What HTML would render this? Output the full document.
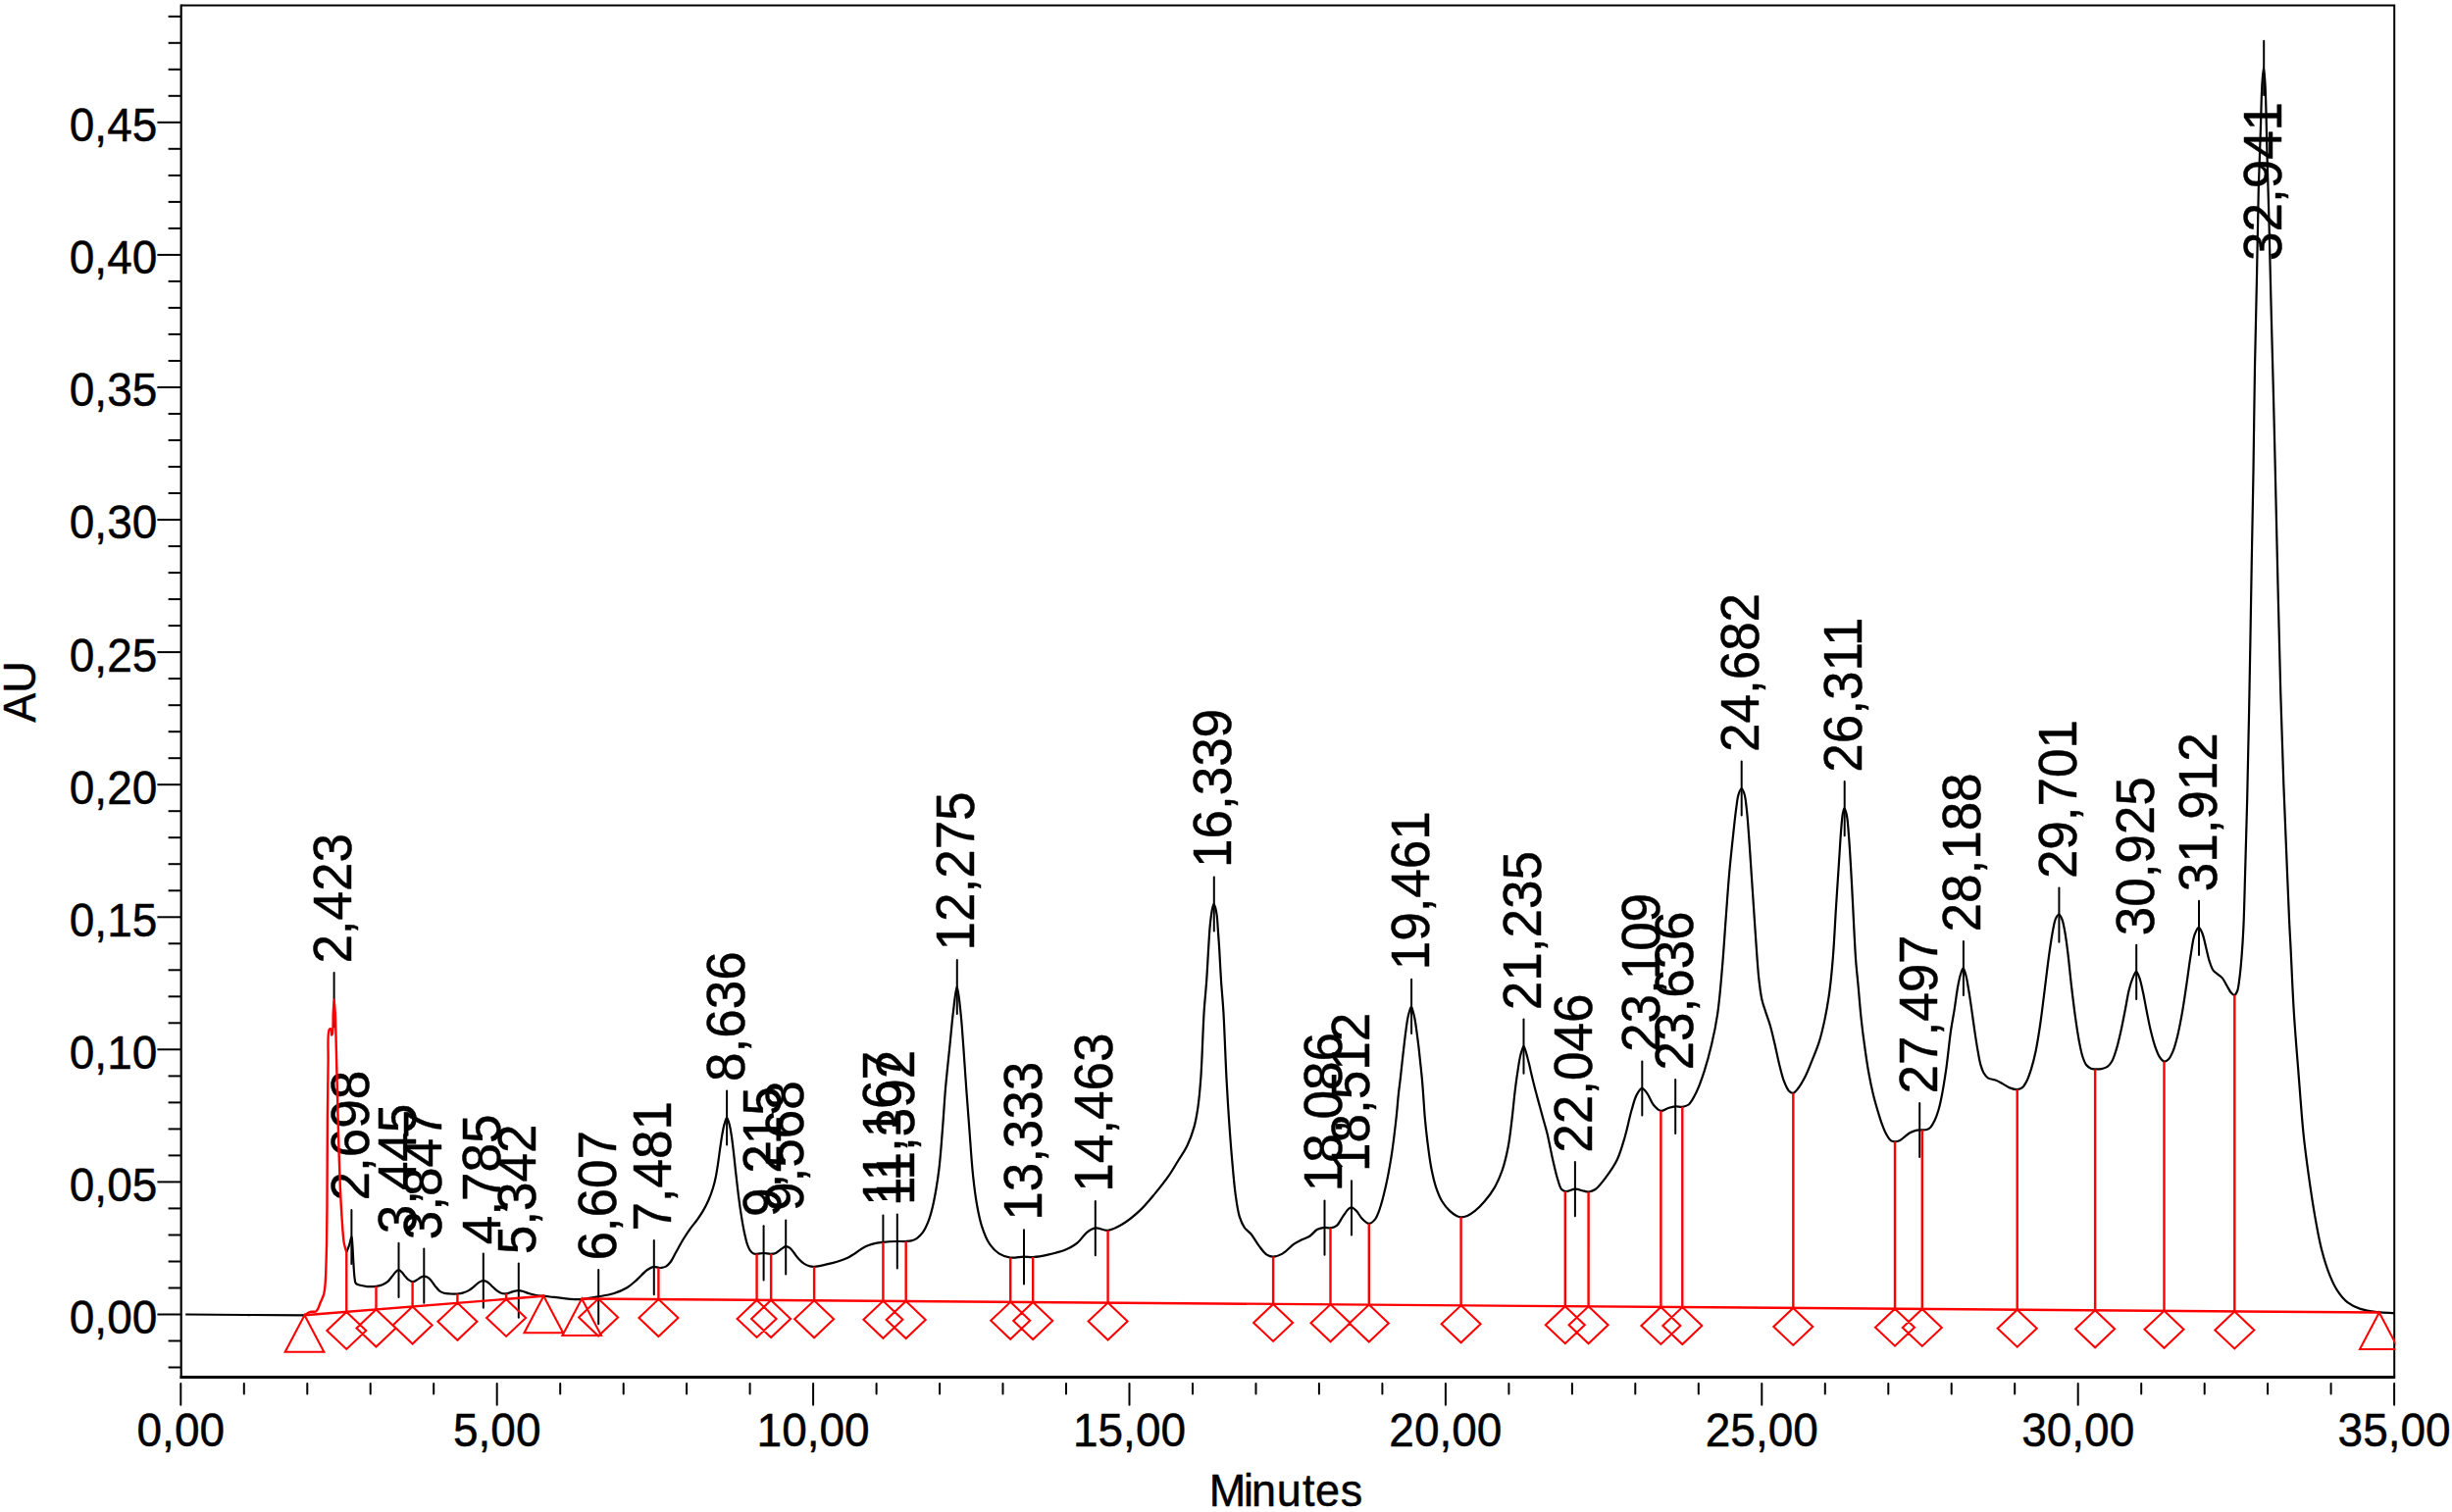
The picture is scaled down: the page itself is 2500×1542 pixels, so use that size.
<!DOCTYPE html><html><head><meta charset="utf-8"><title>Chromatogram</title>
<style>html,body{margin:0;padding:0;background:#fff;overflow:hidden}svg{display:block}text{font-family:"Liberation Sans",Arial,Helvetica,sans-serif;fill:#000;stroke:#000;stroke-width:0.45px;stroke-linejoin:round}</style></head><body>
<svg width="2500" height="1542" viewBox="0 0 2500 1542">
<rect width="2500" height="1542" fill="#fff"/>
<g stroke="#000" stroke-width="2" stroke-linecap="butt" fill="none"><path d="M171.6 1394.5 H184.7"/><path d="M171.6 1367.5 H184.7"/><path d="M160.4 1340.5 H184.7"/><path d="M171.6 1313.5 H184.7"/><path d="M171.6 1286.5 H184.7"/><path d="M171.6 1259.5 H184.7"/><path d="M171.6 1232.4 H184.7"/><path d="M160.4 1205.4 H184.7"/><path d="M171.6 1178.4 H184.7"/><path d="M171.6 1151.4 H184.7"/><path d="M171.6 1124.4 H184.7"/><path d="M171.6 1097.4 H184.7"/><path d="M160.4 1070.3 H184.7"/><path d="M171.6 1043.3 H184.7"/><path d="M171.6 1016.3 H184.7"/><path d="M171.6 989.3 H184.7"/><path d="M171.6 962.3 H184.7"/><path d="M160.4 935.3 H184.7"/><path d="M171.6 908.3 H184.7"/><path d="M171.6 881.2 H184.7"/><path d="M171.6 854.2 H184.7"/><path d="M171.6 827.2 H184.7"/><path d="M160.4 800.2 H184.7"/><path d="M171.6 773.2 H184.7"/><path d="M171.6 746.2 H184.7"/><path d="M171.6 719.2 H184.7"/><path d="M171.6 692.1 H184.7"/><path d="M160.4 665.1 H184.7"/><path d="M171.6 638.1 H184.7"/><path d="M171.6 611.1 H184.7"/><path d="M171.6 584.1 H184.7"/><path d="M171.6 557.1 H184.7"/><path d="M160.4 530.1 H184.7"/><path d="M171.6 503 H184.7"/><path d="M171.6 476 H184.7"/><path d="M171.6 449 H184.7"/><path d="M171.6 422 H184.7"/><path d="M160.4 395 H184.7"/><path d="M171.6 368 H184.7"/><path d="M171.6 340.9 H184.7"/><path d="M171.6 313.9 H184.7"/><path d="M171.6 286.9 H184.7"/><path d="M160.4 259.9 H184.7"/><path d="M171.6 232.9 H184.7"/><path d="M171.6 205.9 H184.7"/><path d="M171.6 178.9 H184.7"/><path d="M171.6 151.8 H184.7"/><path d="M160.4 124.8 H184.7"/><path d="M171.6 97.8 H184.7"/><path d="M171.6 70.8 H184.7"/><path d="M171.6 43.8 H184.7"/><path d="M171.6 16.8 H184.7"/></g><g stroke="#000" stroke-width="2" stroke-linecap="round" fill="none"><path d="M184.3 1411 V1432.8"/><path d="M248.8 1411 V1421.6"/><path d="M313.3 1411 V1421.6"/><path d="M377.7 1411 V1421.6"/><path d="M442.2 1411 V1421.6"/><path d="M506.7 1411 V1432.8"/><path d="M571.2 1411 V1421.6"/><path d="M635.7 1411 V1421.6"/><path d="M700.1 1411 V1421.6"/><path d="M764.6 1411 V1421.6"/><path d="M829.1 1411 V1432.8"/><path d="M893.6 1411 V1421.6"/><path d="M958.1 1411 V1421.6"/><path d="M1022.5 1411 V1421.6"/><path d="M1087 1411 V1421.6"/><path d="M1151.5 1411 V1432.8"/><path d="M1216 1411 V1421.6"/><path d="M1280.5 1411 V1421.6"/><path d="M1344.9 1411 V1421.6"/><path d="M1409.4 1411 V1421.6"/><path d="M1473.9 1411 V1432.8"/><path d="M1538.4 1411 V1421.6"/><path d="M1602.9 1411 V1421.6"/><path d="M1667.3 1411 V1421.6"/><path d="M1731.8 1411 V1421.6"/><path d="M1796.3 1411 V1432.8"/><path d="M1860.8 1411 V1421.6"/><path d="M1925.3 1411 V1421.6"/><path d="M1989.7 1411 V1421.6"/><path d="M2054.2 1411 V1421.6"/><path d="M2118.7 1411 V1432.8"/><path d="M2183.2 1411 V1421.6"/><path d="M2247.7 1411 V1421.6"/><path d="M2312.1 1411 V1421.6"/><path d="M2376.6 1411 V1421.6"/><path d="M2441.1 1411 V1432.8"/></g>
<path d="M184.7 5.4 H2441.2 V1404.5" fill="none" stroke="#000" stroke-width="2"/>
<path d="M184.7 4.4 V1406" fill="none" stroke="#000" stroke-width="2.2"/>
<path d="M183.6 1404.5 H2442.2" fill="none" stroke="#000" stroke-width="2.8"/>
<g font-size="46px" text-anchor="end">
<text transform="translate(160.3 1359.9) scale(1 1.048)">0,00</text>
<text transform="translate(160.3 1224.8) scale(1 1.048)">0,05</text>
<text transform="translate(160.3 1089.8) scale(1 1.048)">0,10</text>
<text transform="translate(160.3 954.7) scale(1 1.048)">0,15</text>
<text transform="translate(160.3 819.6) scale(1 1.048)">0,20</text>
<text transform="translate(160.3 684.5) scale(1 1.048)">0,25</text>
<text transform="translate(160.3 549.4) scale(1 1.048)">0,30</text>
<text transform="translate(160.3 414.4) scale(1 1.048)">0,35</text>
<text transform="translate(160.3 279.3) scale(1 1.048)">0,40</text>
<text transform="translate(160.3 144.2) scale(1 1.048)">0,45</text>
</g>
<g font-size="46px" text-anchor="middle">
<text transform="translate(184.3 1474.7) scale(1 1.048)">0,00</text>
<text transform="translate(506.7 1474.7) scale(1 1.048)">5,00</text>
<text transform="translate(829.1 1474.7) scale(1 1.048)">10,00</text>
<text transform="translate(1151.5 1474.7) scale(1 1.048)">15,00</text>
<text transform="translate(1473.9 1474.7) scale(1 1.048)">20,00</text>
<text transform="translate(1796.3 1474.7) scale(1 1.048)">25,00</text>
<text transform="translate(2118.7 1474.7) scale(1 1.048)">30,00</text>
<text transform="translate(2441.1 1474.7) scale(1 1.048)">35,00</text>
</g>
<text transform="translate(0 1536.3) scale(1 1.035)" font-size="45px" x="1232.8 1268 1275.9 1301.7 1328.1 1340.9 1366.8" y="0">Minutes</text>
<text transform="translate(36.4 705.5) rotate(-90) scale(1 1.035)" font-size="45px" text-anchor="middle">AU</text>
<defs><clipPath id="pc"><rect x="184.7" y="5.4" width="2257.7" height="1399.1"/></clipPath></defs>
<g fill="none" stroke="#000" stroke-width="2.2" stroke-linejoin="round" stroke-linecap="butt">
<path d="M189.2 1340.5 L250 1341 L310.5 1341.3"/>
<path d="M353.3 1276.9 C354.27 1274.43 355.35 1272.08 356.2 1269.5 C357.1 1266.79 357.97 1260.95 358.5 1261 C359.05 1261.05 359.12 1266.76 359.4 1270.4 C359.78 1275.41 360.02 1282.57 360.4 1288.3 C360.76 1293.6 361 1299.82 361.6 1303.6 C361.96 1305.88 361.86 1307.8 362.9 1309 C363.87 1310.12 365.7 1310.31 367.4 1310.8 C369.49 1311.4 372.06 1311.91 374.6 1312.1 C377.42 1312.31 380.88 1312.16 383.6 1311.8 C385.9 1311.49 387.94 1311.08 389.9 1310.3 C391.8 1309.54 393.61 1308.55 395.2 1307.2 C396.9 1305.76 398.29 1303.52 399.7 1301.8 C400.98 1300.24 402.04 1298.45 403.3 1297.3 C404.33 1296.37 405.44 1295.19 406.5 1295.2 C407.54 1295.21 408.6 1296.37 409.6 1297.3 C410.85 1298.45 411.96 1300.42 413.2 1301.8 C414.37 1303.1 415.48 1304.49 416.8 1305.4 C418.03 1306.25 419.39 1307.21 420.8 1307.2 C422.38 1307.19 424.31 1305.74 425.8 1304.9 C427.11 1304.16 428.11 1303.06 429.3 1302.5 C430.35 1302.01 431.44 1301.6 432.5 1301.6 C433.54 1301.6 434.58 1301.97 435.6 1302.5 C436.82 1303.14 438.02 1304.15 439.2 1305.4 C440.73 1307 442.15 1309.68 443.7 1311.6 C445.15 1313.4 446.57 1315.37 448.2 1316.6 C449.6 1317.66 451.03 1318.31 452.7 1318.8 C454.58 1319.35 456.83 1319.38 459 1319.5 C461.29 1319.63 463.81 1319.7 466.1 1319.5 C468.27 1319.31 470.41 1318.99 472.4 1318.4 C474.3 1317.84 476.06 1317.1 477.8 1316.1 C479.67 1315.03 481.42 1313.5 483.2 1312.1 C485.02 1310.67 486.85 1308.62 488.6 1307.6 C489.96 1306.81 491.26 1306.15 492.6 1306.1 C493.93 1306.06 495.3 1306.59 496.6 1307.3 C498.15 1308.15 499.54 1309.82 501.1 1311.2 C502.83 1312.73 504.71 1314.8 506.5 1316.1 C508.01 1317.2 509.41 1318.17 511 1318.7 C512.55 1319.22 514.27 1319.42 515.9 1319.3 C517.57 1319.17 519.28 1318.36 520.9 1317.9 C522.44 1317.46 523.98 1316.9 525.4 1316.6 C526.63 1316.34 527.66 1316.07 528.9 1316.1 C530.31 1316.14 531.79 1316.55 533.4 1317 C535.34 1317.55 537.51 1318.63 539.7 1319.3 C542 1320.01 544.48 1320.7 546.9 1321.1 C549.28 1321.49 551.45 1321.44 554.1 1321.7 C557.36 1322.02 560.64 1322.46 565 1322.9 C571.55 1323.57 581.78 1325.38 589.6 1325.2 C596.75 1325.03 603.79 1323.37 610.1 1322.3 C615.56 1321.38 620.42 1320.81 625.3 1319.3 C630.12 1317.8 635.1 1315.76 639.2 1313.3 C642.95 1311.05 645.78 1308.29 649.1 1305.4 C652.72 1302.24 656.67 1297.33 660 1295 C662.31 1293.39 664.42 1292.06 666.5 1291.8 C668.26 1291.58 670.13 1292.74 671.6 1292.9 C672.7 1293.02 673.45 1293.05 674.5 1292.9 C675.83 1292.71 677.52 1292.39 678.9 1291.6 C680.48 1290.7 681.87 1289.31 683.3 1287.5 C685.3 1284.97 687.06 1280.92 689.1 1277.3 C691.4 1273.21 693.9 1268.32 696.4 1264.2 C698.74 1260.35 701.13 1256.77 703.6 1253.3 C705.97 1249.98 708.65 1246.93 710.9 1243.8 C713 1240.87 714.85 1238.27 716.7 1235.1 C718.77 1231.57 720.89 1227.43 722.6 1223.5 C724.28 1219.66 725.69 1215.72 726.9 1211.8 C728.08 1207.96 728.97 1204.2 729.8 1200.2 C730.68 1195.98 731.3 1191.69 732 1187.1 C732.77 1182.04 733.45 1176.3 734.2 1171.1 C734.92 1166.15 735.59 1161 736.4 1156.6 C737.08 1152.89 737.73 1149.41 738.6 1146.4 C739.31 1143.93 740.17 1139.81 741 1139.8 C741.84 1139.79 742.86 1143.85 743.6 1146.4 C744.55 1149.69 745.13 1153.73 745.8 1158 C746.62 1163.22 747.29 1169.45 748 1175.5 C748.76 1182.01 749.4 1188.7 750.2 1195.8 C751.08 1203.65 752.08 1212.75 753.1 1220.6 C754.02 1227.71 754.97 1234.54 756 1240.9 C756.92 1246.56 757.85 1252 758.9 1256.9 C759.8 1261.12 760.67 1265.31 761.8 1268.6 C762.67 1271.13 763.46 1273.38 764.7 1275.1 C765.74 1276.55 767.1 1277.92 768.4 1278.5 C769.46 1278.97 770.4 1278.82 771.7 1278.8 C773.58 1278.78 776.28 1278.01 778.6 1278 C780.97 1277.99 783.61 1278.85 785.8 1278.8 C787.65 1278.76 789.22 1278.7 790.9 1278 C792.9 1277.17 794.96 1274.9 796.8 1273.7 C798.32 1272.71 799.63 1271.32 801.1 1271.2 C802.53 1271.09 804.15 1271.94 805.5 1272.9 C807.1 1274.04 808.38 1276.23 809.8 1278 C811.28 1279.85 812.53 1282.01 814.2 1283.8 C815.92 1285.65 817.96 1287.61 820 1288.9 C821.85 1290.07 823.96 1290.93 825.8 1291.4 C827.34 1291.79 828.39 1291.88 830.2 1291.8 C833.15 1291.67 837.94 1290.53 841.8 1289.7 C845.71 1288.86 849.76 1287.94 853.5 1286.8 C857.05 1285.72 860.66 1284.54 863.7 1283.1 C866.38 1281.83 868.52 1280.34 870.9 1278.8 C873.35 1277.21 875.71 1275.19 878.2 1273.7 C880.58 1272.27 883.02 1270.99 885.5 1270 C887.89 1269.04 890.33 1268.33 892.8 1267.8 C895.26 1267.27 897.39 1267.07 900.3 1266.8 C904.3 1266.42 910.38 1266.12 914.6 1266 C917.94 1265.91 920.97 1266.14 923.6 1266 C925.66 1265.89 927.28 1265.89 929.1 1265.4 C931.05 1264.87 933.07 1264.06 934.9 1262.8 C937 1261.35 939.02 1259.37 940.8 1256.9 C943.02 1253.82 944.96 1249.47 946.6 1245.3 C948.38 1240.79 949.63 1235.91 950.9 1230.7 C952.33 1224.84 953.51 1218.23 954.6 1211.8 C955.72 1205.17 956.67 1198.51 957.5 1191.5 C958.39 1184.01 959 1176.4 959.7 1168.2 C960.48 1159.04 961.18 1148.8 961.9 1139.1 C962.62 1129.4 963.08 1120.67 964 1110 C965.13 1096.92 967.01 1080.07 968.4 1066.4 C969.63 1054.25 970.58 1042.63 971.9 1032 C973.05 1022.77 974.45 1006.2 975.7 1006.2 C976.95 1006.2 978.36 1022.77 979.4 1032 C980.59 1042.63 981.3 1054.46 982.2 1066.4 C983.18 1079.37 984.01 1093.31 985 1107 C986.01 1121.03 987.07 1134.86 988.2 1149.6 C989.42 1165.51 990.57 1184.78 992.1 1199.2 C993.29 1210.41 994.45 1219.88 996.1 1229 C997.53 1236.87 998.84 1243.99 1001.1 1250.8 C1003.21 1257.17 1005.68 1263.85 1009 1268.7 C1011.81 1272.8 1015.2 1276.27 1018.9 1278.6 C1022.32 1280.76 1026.19 1282.06 1030.2 1282.6 C1034.49 1283.18 1039.77 1281.66 1043.9 1281.6 C1047.3 1281.55 1049.73 1282.2 1053.2 1282 C1057.68 1281.75 1063.23 1280.74 1068.5 1279.6 C1074.27 1278.35 1081.16 1276.81 1086.4 1274.6 C1090.91 1272.7 1094.72 1270.6 1098.3 1267.7 C1102.01 1264.7 1104.77 1259.43 1108.2 1256.8 C1110.98 1254.67 1113.56 1252.87 1116.8 1252.4 C1120.56 1251.86 1125.28 1255.26 1129.6 1254.8 C1134.31 1254.3 1139.06 1251.63 1143.9 1248.8 C1149.75 1245.38 1156.23 1240.1 1161.8 1234.9 C1167.52 1229.56 1172.68 1223.13 1177.7 1217.1 C1182.6 1211.22 1187.49 1205.1 1191.6 1199.2 C1195.33 1193.84 1198.31 1188.52 1201.5 1183.3 C1204.57 1178.29 1207.82 1173.87 1210.4 1168.5 C1213.19 1162.7 1215.58 1156.05 1217.4 1149.6 C1219.22 1143.15 1220.22 1137.1 1221.3 1129.8 C1222.62 1120.91 1223.41 1111.97 1224.3 1100 C1225.65 1081.96 1226.4 1050.44 1227.6 1032 C1228.42 1019.34 1229.44 1010.82 1230.2 1000 C1230.98 988.87 1231.59 975.89 1232.2 966.1 C1232.67 958.62 1233 952.06 1233.5 946.3 C1233.89 941.83 1234.31 937.96 1234.8 934.4 C1235.2 931.49 1235.54 928.72 1236.1 926.5 C1236.53 924.83 1237.05 922.22 1237.6 922.2 C1238.15 922.18 1238.91 924.82 1239.4 926.5 C1240.05 928.71 1240.43 931.49 1240.8 934.4 C1241.25 937.95 1241.37 941.83 1241.7 946.3 C1242.12 952.06 1242.63 958.62 1243.1 966.1 C1243.72 975.89 1244.27 988.87 1245 1000 C1245.71 1010.82 1246.64 1019.34 1247.4 1032 C1248.51 1050.44 1249.46 1080.37 1250.5 1100 C1251.3 1115.01 1252 1126.47 1252.9 1139.7 C1253.8 1152.94 1254.75 1166.17 1255.9 1179.4 C1257.05 1192.64 1258.22 1207.86 1259.8 1219.1 C1260.98 1227.48 1261.93 1234.97 1263.8 1240.9 C1265.18 1245.26 1266.67 1248.72 1268.8 1251.8 C1270.72 1254.59 1273.44 1256.04 1275.7 1258.8 C1278.43 1262.14 1280.92 1267.1 1283.7 1270.7 C1286.24 1273.98 1288.83 1277.82 1291.6 1279.6 C1293.69 1280.95 1295.74 1281.61 1298.1 1281.6 C1300.95 1281.59 1304.35 1280.33 1307.5 1278.6 C1311.44 1276.44 1315.73 1271.22 1319.4 1268.7 C1322.21 1266.78 1324.63 1265.64 1327.3 1264.3 C1329.93 1262.98 1332.76 1262.33 1335.3 1260.7 C1338.08 1258.92 1340.44 1255.28 1343.2 1253.8 C1345.54 1252.54 1348.17 1252 1350.5 1251.8 C1352.58 1251.63 1354.49 1252.68 1356.5 1252.4 C1358.66 1252.09 1361.08 1251.35 1363 1249.8 C1365.38 1247.88 1366.97 1243.75 1369 1240.9 C1370.94 1238.16 1373.1 1234.55 1374.9 1233 C1375.96 1232.09 1376.8 1231.33 1377.9 1231.4 C1379.38 1231.49 1381.29 1233.33 1382.9 1234.9 C1384.96 1236.91 1386.55 1240.7 1388.8 1242.9 C1390.89 1244.94 1393.56 1247.77 1395.8 1247.8 C1397.84 1247.83 1400.03 1245.85 1401.7 1243.9 C1403.87 1241.36 1405.13 1237.34 1406.7 1233 C1408.86 1227.03 1410.77 1219.11 1412.6 1211.1 C1414.79 1201.55 1416.84 1190.57 1418.6 1179.4 C1420.56 1167.01 1422.32 1151.56 1423.6 1140 C1424.6 1130.94 1425.12 1122.91 1425.9 1115.7 C1426.53 1109.89 1427.19 1105.32 1427.8 1100 C1428.43 1094.52 1428.98 1088.86 1429.6 1083.3 C1430.22 1077.76 1430.87 1072.07 1431.5 1066.7 C1432.1 1061.62 1432.66 1056.67 1433.3 1051.9 C1433.9 1047.42 1434.48 1042.61 1435.2 1038.9 C1435.75 1036.07 1436.3 1033.65 1437 1031.5 C1437.57 1029.76 1438.28 1026.89 1438.9 1026.9 C1439.52 1026.91 1440.15 1029.72 1440.7 1031.5 C1441.42 1033.84 1442.03 1036.76 1442.6 1039.8 C1443.29 1043.44 1443.81 1047.66 1444.4 1051.9 C1445.05 1056.58 1445.7 1061.62 1446.3 1066.7 C1446.94 1072.07 1447.5 1077.61 1448.1 1083.3 C1448.73 1089.32 1449.45 1095.7 1450 1101.9 C1450.55 1108.07 1450.94 1114.14 1451.4 1120.4 C1451.87 1126.84 1452.19 1133.18 1452.8 1140 C1453.47 1147.48 1454.28 1155.35 1455.3 1163.5 C1456.41 1172.39 1457.65 1182.86 1459.3 1191.3 C1460.7 1198.5 1462.2 1205.16 1464.2 1211.1 C1465.93 1216.22 1467.74 1220.9 1470.2 1225 C1472.45 1228.75 1475.36 1232.3 1478.1 1234.9 C1480.36 1237.04 1482.94 1238.83 1485.1 1239.9 C1486.7 1240.69 1487.96 1241.23 1489.6 1241.3 C1491.54 1241.38 1493.83 1240.79 1496 1239.9 C1498.59 1238.84 1501.24 1237.03 1503.9 1234.9 C1507.16 1232.29 1510.64 1228.72 1513.8 1225 C1517.3 1220.88 1520.88 1216.18 1523.8 1211.1 C1526.91 1205.68 1529.47 1199.77 1531.7 1193.3 C1534.21 1186.04 1536.08 1177.91 1537.7 1169.5 C1539.49 1160.24 1540.6 1149.06 1541.7 1140 C1542.64 1132.27 1543.26 1125 1544 1118.5 C1544.62 1113.11 1545.16 1108.47 1545.8 1103.7 C1546.4 1099.22 1547.06 1094.86 1547.7 1090.7 C1548.29 1086.85 1548.81 1082.91 1549.5 1079.6 C1550.07 1076.87 1550.66 1074.41 1551.4 1072.2 C1552.03 1070.32 1552.8 1067.1 1553.5 1067.1 C1554.2 1067.1 1554.97 1070.38 1555.6 1072.2 C1556.29 1074.22 1556.8 1076.46 1557.4 1078.7 C1558.04 1081.08 1558.66 1083.43 1559.3 1086.1 C1560.05 1089.22 1560.75 1092.7 1561.6 1096.3 C1562.56 1100.38 1563.67 1104.91 1564.8 1109.3 C1565.97 1113.84 1567.19 1118.27 1568.5 1123.1 C1569.95 1128.45 1571.59 1134.48 1573.1 1140 C1574.55 1145.31 1575.94 1149.63 1577.4 1155.6 C1579.33 1163.49 1581.34 1174.84 1583.3 1183.3 C1584.97 1190.5 1586.55 1197.76 1588.3 1203.2 C1589.56 1207.12 1590.44 1211.18 1592.2 1213.1 C1593.34 1214.35 1594.53 1214.91 1596.2 1215.1 C1598.73 1215.39 1602.88 1212.73 1606.1 1212.7 C1609.17 1212.67 1612.61 1214.2 1615.1 1214.7 C1616.85 1215.05 1617.96 1215.64 1619.6 1215.5 C1621.68 1215.32 1624.17 1214.59 1626.5 1213 C1629.93 1210.66 1633.56 1205.66 1637 1201.1 C1641.05 1195.72 1645.64 1189.3 1648.9 1182.5 C1652.37 1175.25 1654.5 1166.89 1656.9 1158.7 C1659.39 1150.18 1661.27 1139.95 1663.5 1132.3 C1665.25 1126.29 1666.61 1120.41 1668.8 1116.4 C1670.35 1113.55 1672.28 1109.9 1674.1 1109.8 C1675.82 1109.71 1677.69 1112.83 1679.4 1115.1 C1681.7 1118.16 1683.38 1123.93 1686 1127 C1688.18 1129.55 1690.84 1132.4 1693.4 1132.8 C1695.69 1133.16 1698.09 1130.95 1700.5 1130.2 C1702.92 1129.45 1705.41 1128.53 1707.9 1128.3 C1710.35 1128.07 1712.96 1129.13 1715.3 1128.8 C1717.55 1128.49 1719.71 1128.11 1721.7 1126.5 C1724.65 1124.12 1727.18 1118.71 1729.6 1113.8 C1732.58 1107.76 1735.13 1100.21 1737.6 1092.6 C1740.38 1084.02 1742.97 1074.36 1745.2 1064.8 C1747.53 1054.79 1749.51 1045.28 1751.2 1033.8 C1753.28 1019.67 1754.62 1002.08 1756 986.2 C1757.38 970.34 1758.32 954.47 1759.5 938.6 C1760.68 922.73 1761.8 905.73 1763.1 891 C1764.23 878.21 1765.47 866.69 1766.7 855.2 C1767.84 844.52 1769.03 832.63 1770.2 824.3 C1771 818.61 1771.38 813.68 1772.6 810 C1773.44 807.49 1774.7 803.99 1775.7 804 C1776.7 804.01 1777.81 807.42 1778.6 810 C1779.85 814.1 1780.29 820.38 1781 826.7 C1781.92 834.93 1782.56 845.16 1783.3 855.2 C1784.13 866.45 1784.9 879.08 1785.7 891 C1786.5 902.91 1787.3 914.8 1788.1 926.7 C1788.9 938.6 1789.63 950.5 1790.5 962.4 C1791.37 974.3 1792.14 987.73 1793.3 998.1 C1794.2 1006.16 1795.05 1013.45 1796.4 1019.5 C1797.42 1024.09 1798.68 1027.26 1800 1031.4 C1801.45 1035.96 1803.31 1040.56 1804.8 1045.7 C1806.51 1051.57 1807.96 1058.24 1809.5 1064.8 C1811.13 1071.72 1812.61 1079.53 1814.3 1086.2 C1815.8 1092.13 1817.17 1098.19 1819 1102.9 C1820.44 1106.59 1821.9 1110.42 1823.8 1112.4 C1825.09 1113.75 1826.66 1114.97 1828.1 1114.8 C1829.83 1114.6 1831.58 1112.11 1833.3 1110 C1835.72 1107.04 1838.25 1102.49 1840.5 1098.1 C1843.07 1093.09 1845.28 1087.17 1847.6 1081.4 C1850.05 1075.29 1852.69 1069.16 1854.8 1062.4 C1857.12 1054.98 1858.97 1046.93 1860.7 1038.6 C1862.58 1029.54 1864.16 1020.09 1865.5 1010 C1866.99 998.78 1867.99 987.06 1869 974.3 C1870.17 959.58 1870.9 942.57 1871.9 926.7 C1872.9 910.81 1874.02 893.75 1875 879 C1875.84 866.24 1876.57 852.52 1877.4 843.3 C1877.92 837.45 1878.26 832.45 1879 829 C1879.43 826.98 1879.93 824.3 1880.5 824.3 C1881.2 824.29 1882.23 828.29 1882.9 831.4 C1884.09 836.96 1884.47 845.89 1885.2 855.2 C1886.24 868.36 1887.22 887.01 1888.1 902.9 C1888.98 918.77 1889.74 936.52 1890.5 950.5 C1891.09 961.51 1891.47 970.44 1892.2 980 C1892.89 989.08 1893.84 997.18 1894.7 1006.5 C1895.66 1016.9 1896.58 1029.11 1897.7 1039.5 C1898.7 1048.83 1899.78 1057.17 1901 1066 C1902.22 1074.84 1903.5 1084.05 1905 1092.5 C1906.39 1100.33 1907.94 1108.03 1909.6 1115 C1911.07 1121.14 1912.68 1126.73 1914.3 1132.2 C1915.79 1137.26 1917.25 1142.28 1918.9 1146.7 C1920.34 1150.55 1921.77 1154.35 1923.5 1157.3 C1924.9 1159.68 1926.41 1162.19 1928.1 1163.3 C1929.35 1164.12 1930.72 1164.28 1932.1 1164.3 C1933.58 1164.32 1935.19 1163.99 1936.7 1163.3 C1938.5 1162.48 1940.23 1160.63 1942 1159.3 C1943.77 1157.97 1945.46 1156.35 1947.3 1155.3 C1949.01 1154.32 1950.84 1153.58 1952.6 1153.1 C1954.24 1152.65 1956.11 1152.5 1957.5 1152.4 C1958.53 1152.33 1959.2 1152.45 1960.2 1152.4 C1961.47 1152.34 1963.15 1152.47 1964.5 1152 C1965.92 1151.51 1967.29 1150.65 1968.5 1149.4 C1970.04 1147.81 1971.28 1145.33 1972.5 1142.8 C1973.97 1139.74 1975.32 1135.73 1976.4 1132.2 C1977.44 1128.8 1978 1126.36 1978.9 1122 C1980.49 1114.34 1982.69 1101.22 1984.3 1090.1 C1986.05 1078.01 1987.31 1063.14 1988.9 1052.1 C1990.13 1043.52 1991.5 1036.91 1992.7 1029.3 C1993.9 1021.71 1994.92 1012.9 1996.1 1006.5 C1996.97 1001.79 1997.73 997.77 1998.8 994.3 C1999.63 991.61 2000.68 987.29 2001.6 987.3 C2002.52 987.31 2003.49 991.48 2004.3 994.3 C2005.46 998.36 2006.27 1004.09 2007.2 1009.5 C2008.25 1015.66 2009.22 1022.58 2010.2 1029.3 C2011.22 1036.27 2012.16 1043.63 2013.2 1050.6 C2014.2 1057.32 2015.21 1064.25 2016.3 1070.4 C2017.26 1075.81 2018.1 1081.32 2019.3 1085.6 C2020.22 1088.85 2021.01 1091.62 2022.4 1094 C2023.62 1096.09 2024.98 1098.04 2026.9 1099.3 C2028.95 1100.65 2032.01 1100.61 2034.5 1101.6 C2037.08 1102.63 2039.58 1104.07 2042.1 1105.4 C2044.65 1106.74 2047.16 1108.64 2049.7 1109.6 C2051.99 1110.46 2054.47 1111.24 2056.6 1111.1 C2058.5 1110.98 2060.36 1110.4 2061.9 1109.2 C2063.77 1107.74 2065.12 1105.02 2066.5 1102.3 C2068.23 1098.89 2069.6 1094.61 2071 1090.1 C2072.68 1084.68 2074.19 1078.62 2075.6 1071.9 C2077.32 1063.73 2078.76 1054.21 2080.2 1044.5 C2081.82 1033.56 2083.2 1021.29 2084.7 1009.5 C2086.23 997.46 2087.76 983.92 2089.3 973 C2090.56 964.07 2091.76 955.39 2093.1 948.7 C2094.06 943.92 2094.68 939.33 2096.1 936.5 C2097 934.7 2098.29 932.54 2099.3 932.6 C2100.36 932.66 2101.44 935.25 2102.3 937.3 C2103.63 940.46 2104.39 945.34 2105.3 950.2 C2106.45 956.39 2107.3 963.51 2108.3 971.5 C2109.57 981.72 2110.79 995.25 2112.1 1006.5 C2113.33 1017 2114.56 1027.34 2115.9 1036.9 C2117.1 1045.46 2118.3 1053.87 2119.7 1061.2 C2120.87 1067.34 2121.96 1073.44 2123.5 1078 C2124.62 1081.32 2125.67 1084.26 2127.3 1086.3 C2128.6 1087.93 2130.31 1089.14 2131.9 1089.8 C2133.26 1090.37 2134.55 1090.33 2136.1 1090.4 C2138.01 1090.49 2140.42 1090.51 2142.5 1090.1 C2144.59 1089.68 2146.84 1089.12 2148.6 1087.9 C2150.44 1086.63 2151.85 1084.81 2153.2 1082.5 C2155.03 1079.39 2156.3 1074.89 2157.7 1070.4 C2159.39 1064.97 2160.84 1058.55 2162.3 1052.1 C2163.92 1044.94 2165.46 1036.64 2166.9 1029.3 C2168.24 1022.47 2169.25 1015.26 2170.7 1009.5 C2171.85 1004.94 2173.07 1000.77 2174.5 997.4 C2175.6 994.81 2176.95 990.78 2178.1 990.8 C2179.24 990.82 2180.4 994.68 2181.4 997.4 C2182.85 1001.36 2183.92 1007.19 2185.1 1012.6 C2186.44 1018.73 2187.61 1025.86 2188.9 1032.3 C2190.15 1038.52 2191.27 1044.66 2192.7 1050.6 C2194.08 1056.32 2195.58 1062.4 2197.3 1067.3 C2198.71 1071.32 2200.04 1075.33 2201.9 1078 C2203.29 1080 2204.97 1082.25 2206.6 1082.5 C2208.02 1082.71 2209.69 1081.56 2211 1080.3 C2212.83 1078.54 2214.23 1075.2 2215.6 1071.9 C2217.37 1067.66 2218.71 1062.31 2220.1 1056.7 C2221.79 1049.9 2223.26 1041.97 2224.7 1033.9 C2226.32 1024.85 2227.72 1014.88 2229.2 1005 C2230.76 994.61 2232.23 982.38 2233.8 973 C2235.04 965.6 2235.79 958.1 2237.6 953.2 C2238.77 950.02 2240.44 945.82 2241.8 945.8 C2243.03 945.78 2244.35 949.23 2245.4 951.7 C2246.9 955.24 2247.8 960.71 2249 965.4 C2250.26 970.33 2251.35 976.23 2252.8 980.6 C2253.95 984.07 2254.94 987.44 2256.6 989.7 C2257.9 991.47 2259.66 992.31 2261.2 993.6 C2262.73 994.88 2264.4 995.77 2265.8 997.4 C2267.5 999.39 2268.79 1002.47 2270.3 1005 C2271.82 1007.54 2273.32 1010.92 2274.9 1012.6 C2275.95 1013.71 2277.13 1014.96 2278.1 1014.8 C2279.18 1014.63 2280.23 1012.75 2281 1011 C2282.24 1008.2 2282.54 1003.58 2283.2 998.9 C2284.1 992.51 2284.83 984.26 2285.5 976.1 C2286.27 966.68 2286.86 957.26 2287.4 945.6 C2288.13 929.95 2288.52 910.42 2289.1 890.6 C2289.78 867.29 2290.52 842.83 2291.2 814.5 C2292.06 778.7 2292.93 733.44 2293.7 692.9 C2294.47 652.34 2295.12 608.85 2295.8 571.2 C2296.38 538.61 2296.98 511.51 2297.5 480 C2298.06 446.11 2298.39 408.39 2299 374.5 C2299.57 342.99 2300.37 313.7 2301 283.3 C2301.63 252.9 2302.06 219.44 2302.8 192.1 C2303.41 169.76 2304.27 150.03 2304.9 131.2 C2305.45 114.9 2305.66 97.05 2306.4 85.6 C2306.85 78.66 2307.48 68.9 2308 68.9 C2308.52 68.9 2309.05 78.01 2309.5 85.6 C2310.45 101.78 2310.92 137.76 2311.6 161.7 C2312.21 183.1 2312.8 200.19 2313.4 222.5 C2314.13 249.83 2314.83 283.29 2315.6 313.7 C2316.37 344.13 2317.27 376.06 2318 405 C2318.66 431.23 2319.14 451.99 2319.8 480 C2320.64 515.68 2321.65 562.5 2322.6 601.7 C2323.49 638.36 2324.31 674 2325.3 708.1 C2326.22 739.67 2327.23 770.28 2328.3 799.3 C2329.28 825.82 2330.4 851.08 2331.4 875.4 C2332.32 897.79 2333.3 923.16 2334.1 939.9 C2334.61 950.57 2334.95 955.38 2335.5 966.1 C2336.38 983.14 2337.42 1010.25 2338.8 1032.3 C2340.18 1054.35 2342.11 1076.95 2343.8 1098.4 C2345.41 1118.76 2346.85 1140.08 2348.7 1157.9 C2350.22 1172.49 2351.82 1184.12 2353.7 1197.6 C2355.66 1211.66 2357.94 1227.23 2360.3 1240.6 C2362.38 1252.38 2364.25 1263.36 2366.9 1273.7 C2369.3 1283.07 2372.12 1292.42 2375.2 1300.1 C2377.72 1306.38 2380.17 1311.85 2383.4 1316.7 C2386.33 1321.1 2389.5 1325.16 2393.4 1328.2 C2397.25 1331.2 2401.71 1333.26 2406.6 1334.9 C2412.06 1336.74 2418.86 1337.48 2424.8 1338.2 C2430.41 1338.88 2435.8 1338.87 2441.3 1339.2"/>
</g>
<g stroke="#000" stroke-width="2" stroke-linecap="round" fill="none">
<path d="M340.6 992 V1047.2"/>
<path d="M358.4 1233.9 V1289.1"/>
<path d="M406.5 1267.7 V1322.9"/>
<path d="M432.3 1273.6 V1328.8"/>
<path d="M492.8 1278.6 V1333.8"/>
<path d="M528.8 1288.6 V1343.8"/>
<path d="M610.2 1295 V1350.2"/>
<path d="M666.8 1265 V1320.2"/>
<path d="M741.1 1112.4 V1167.6"/>
<path d="M778.6 1250.3 V1305.5"/>
<path d="M801.2 1244.4 V1299.6"/>
<path d="M900.4 1239.5 V1267.1"/>
<path d="M914.8 1238.4 V1293.6"/>
<path d="M975.8 978.9 V1034.1"/>
<path d="M1044 1254.2 V1309.4"/>
<path d="M1116.8 1225.1 V1280.3"/>
<path d="M1237.8 894.4 V949.6"/>
<path d="M1350.5 1224.6 V1279.8"/>
<path d="M1378 1204.3 V1259.5"/>
<path d="M1439.1 998.7 V1053.9"/>
<path d="M1553.5 1039.6 V1094.8"/>
<path d="M1605.9 1185.1 V1240.3"/>
<path d="M1674.3 1082.4 V1137.6"/>
<path d="M1708.2 1100.9 V1156.1"/>
<path d="M1775.7 776.4 V831.6"/>
<path d="M1880.7 797.1 V852.3"/>
<path d="M1957.2 1124.9 V1180.1"/>
<path d="M2001.9 959.9 V1015.1"/>
<path d="M2099.4 905.5 V960.7"/>
<path d="M2178.2 963.7 V1018.9"/>
<path d="M2242 918.7 V973.9"/>
<path d="M2308.2 41.7 V96.9"/>
</g>
<g font-size="53px">
<text transform="translate(358.1 982.6) rotate(-90) scale(1 1.05)">2,423</text>
<text transform="translate(375.9 1224.5) rotate(-90) scale(1 1.05)">2,698</text>
<text transform="translate(424 1258.3) rotate(-90) scale(1 1.05)">3,445</text>
<text transform="translate(449.8 1264.2) rotate(-90) scale(1 1.05)">3,847</text>
<text transform="translate(510.3 1269.2) rotate(-90) scale(1 1.05)">4,785</text>
<text transform="translate(546.3 1279.2) rotate(-90) scale(1 1.05)">5,342</text>
<text transform="translate(627.7 1285.6) rotate(-90) scale(1 1.05)">6,607</text>
<text transform="translate(684.3 1255.6) rotate(-90) scale(1 1.05)">7,481</text>
<text transform="translate(758.6 1103) rotate(-90) scale(1 1.05)">8,636</text>
<text transform="translate(796.1 1240.9) rotate(-90) scale(1 1.05)">9,215</text>
<text transform="translate(818.7 1235) rotate(-90) scale(1 1.05)">9,568</text>
<text transform="translate(917.9 1230.1) rotate(-90) scale(1 1.05)">11,167</text>
<text transform="translate(932.3 1229) rotate(-90) scale(1 1.05)">11,392</text>
<text transform="translate(993.3 969.5) rotate(-90) scale(1 1.05)">12,275</text>
<text transform="translate(1061.5 1244.8) rotate(-90) scale(1 1.05)">13,333</text>
<text transform="translate(1134.3 1215.7) rotate(-90) scale(1 1.05)">14,463</text>
<text transform="translate(1255.3 885) rotate(-90) scale(1 1.05)">16,339</text>
<text transform="translate(1368 1215.2) rotate(-90) scale(1 1.05)">18,086</text>
<text transform="translate(1395.5 1194.9) rotate(-90) scale(1 1.05)">18,512</text>
<text transform="translate(1456.6 989.3) rotate(-90) scale(1 1.05)">19,461</text>
<text transform="translate(1571 1030.2) rotate(-90) scale(1 1.05)">21,235</text>
<text transform="translate(1623.4 1175.7) rotate(-90) scale(1 1.05)">22,046</text>
<text transform="translate(1691.8 1073) rotate(-90) scale(1 1.05)">23,109</text>
<text transform="translate(1725.7 1091.5) rotate(-90) scale(1 1.05)">23,636</text>
<text transform="translate(1793.2 767) rotate(-90) scale(1 1.05)">24,682</text>
<text transform="translate(1898.2 787.7) rotate(-90) scale(1 1.05)">26,311</text>
<text transform="translate(1974.7 1115.5) rotate(-90) scale(1 1.05)">27,497</text>
<text transform="translate(2019.4 950.5) rotate(-90) scale(1 1.05)">28,188</text>
<text transform="translate(2116.9 896.1) rotate(-90) scale(1 1.05)">29,701</text>
<text transform="translate(2195.7 954.3) rotate(-90) scale(1 1.05)">30,925</text>
<text transform="translate(2259.5 909.3) rotate(-90) scale(1 1.05)">31,912</text>
<text transform="translate(2325.7 266) rotate(-90) scale(1 1.05)">32,941</text>
</g>
<g fill="none" stroke="#f00" stroke-width="2.4" stroke-linejoin="miter" clip-path="url(#pc)">
<path d="M310.5 1341.3 C312.47 1340.17 314.37 1338.52 316.4 1337.9 C318.28 1337.33 320.84 1338.28 322.2 1337.5 C323.31 1336.86 323.73 1335.57 324.4 1334.3 C325.24 1332.69 325.76 1330.63 326.6 1328.5 C327.64 1325.87 329.36 1322.9 330.2 1319.7 C331.14 1316.13 331.33 1312.33 331.7 1308 C332.16 1302.65 332.28 1296.35 332.5 1290 C332.75 1282.87 332.94 1275.82 333.1 1267.3 C333.3 1256.34 333.39 1244.92 333.5 1229.7 C333.68 1206.16 333.68 1166.26 333.9 1139.8 C334.08 1118.88 334.23 1099.95 334.6 1083.6 C334.89 1070.94 333.57 1052.61 335.7 1049.9 C336.2 1049.26 337.08 1049.11 337.5 1049.4 C338.26 1049.93 337.53 1055.35 338 1055.5 C338.23 1055.57 338.65 1055.07 338.9 1054.4 C339.91 1051.73 339.44 1038.27 339.8 1031.9 C340.07 1027.18 340.38 1019.6 340.7 1019.6 C341.05 1019.6 341.49 1028.18 341.8 1034.2 C342.31 1043.92 342.55 1059.15 342.9 1072.4 C343.28 1086.76 343.62 1102.33 344 1117.3 C344.38 1132.27 344.75 1147.23 345.2 1162.2 C345.65 1177.19 346.1 1193.29 346.7 1207.2 C347.22 1219.25 347.77 1230.29 348.5 1240.9 C349.16 1250.4 349.62 1261.35 350.8 1267.9 C351.49 1271.74 352.47 1273.9 353.3 1276.9" stroke-linejoin="round"/>
<path d="M310.5 1341.3 L554.3 1321.8"/>
<path d="M593 1324.5 L2425.8 1338.5"/>
<path d="M353.3 1276.9 V1337.9 M383.5 1311.8 V1335.5 M420.6 1307.2 V1332.5 M466.4 1319.5 V1328.8 M516.1 1319.3 V1324.9 M671.4 1292.9 V1325.1 M771.6 1278.8 V1325.9 M786.1 1278.8 V1326 M830.1 1291.8 V1326.3 M900.4 1266.8 V1326.8 M923.7 1266 V1327 M1030.2 1282.6 V1327.8 M1053.2 1282 V1328 M1129.6 1254.8 V1328.6 M1298.1 1281.6 V1329.9 M1356.5 1252.4 V1330.3 M1395.8 1247.8 V1330.6 M1489.6 1241.3 V1331.3 M1595.8 1215.1 V1332.2 M1619.6 1215.5 V1332.3 M1693.4 1132.8 V1332.9 M1715.3 1128.8 V1333.1 M1828.3 1114.8 V1333.9 M1932 1164.3 V1334.7 M1959.8 1152.4 V1334.9 M2056.7 1111.1 V1335.7 M2136.1 1090.4 V1336.3 M2206.5 1082.5 V1336.8 M2278.3 1014.8 V1337.4"/>
<path d="M353.3 1337.9 l20 19 l-20 19 l-20 -19 Z M383.5 1335.5 l20 19 l-20 19 l-20 -19 Z M420.6 1332.5 l20 19 l-20 19 l-20 -19 Z M466.4 1328.8 l20 19 l-20 19 l-20 -19 Z M516.1 1324.9 l20 19 l-20 19 l-20 -19 Z M610.1 1324.6 l20 19 l-20 19 l-20 -19 Z M671.4 1325.1 l20 19 l-20 19 l-20 -19 Z M771.6 1325.9 l20 19 l-20 19 l-20 -19 Z M786.1 1326 l20 19 l-20 19 l-20 -19 Z M830.1 1326.3 l20 19 l-20 19 l-20 -19 Z M900.4 1326.8 l20 19 l-20 19 l-20 -19 Z M923.7 1327 l20 19 l-20 19 l-20 -19 Z M1030.2 1327.8 l20 19 l-20 19 l-20 -19 Z M1053.2 1328 l20 19 l-20 19 l-20 -19 Z M1129.6 1328.6 l20 19 l-20 19 l-20 -19 Z M1298.1 1329.9 l20 19 l-20 19 l-20 -19 Z M1356.5 1330.3 l20 19 l-20 19 l-20 -19 Z M1395.8 1330.6 l20 19 l-20 19 l-20 -19 Z M1489.6 1331.3 l20 19 l-20 19 l-20 -19 Z M1595.8 1332.2 l20 19 l-20 19 l-20 -19 Z M1619.6 1332.3 l20 19 l-20 19 l-20 -19 Z M1693.4 1332.9 l20 19 l-20 19 l-20 -19 Z M1715.3 1333.1 l20 19 l-20 19 l-20 -19 Z M1828.3 1333.9 l20 19 l-20 19 l-20 -19 Z M1932 1334.7 l20 19 l-20 19 l-20 -19 Z M1959.8 1334.9 l20 19 l-20 19 l-20 -19 Z M2056.7 1335.7 l20 19 l-20 19 l-20 -19 Z M2136.1 1336.3 l20 19 l-20 19 l-20 -19 Z M2206.5 1336.8 l20 19 l-20 19 l-20 -19 Z M2278.3 1337.4 l20 19 l-20 19 l-20 -19 Z" stroke-width="2.05"/>
<path d="M310.5 1341.3 l19.8 37.5 h-39.6 Z M554.3 1321.8 l19.8 37.5 h-39.6 Z M593.2 1324.5 l19.8 37.5 h-39.6 Z M2425.8 1338.5 l19.8 37.5 h-39.6 Z" stroke-width="2.05"/>
</g>
</svg></body></html>
